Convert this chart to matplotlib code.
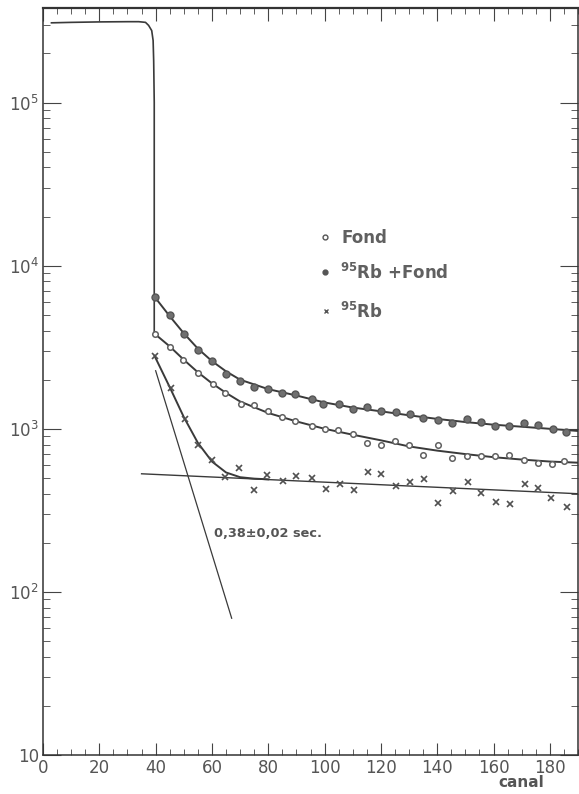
import numpy as np
import matplotlib.pyplot as plt
from matplotlib.ticker import MultipleLocator, FixedLocator, NullFormatter

# plateau + drop (counting curve at start)
plateau_x = [3, 10, 20, 30, 34, 36.4, 37.5, 38.6, 39.1, 39.3, 39.5, 39.5]
plateau_y = [3.08e5, 3.1e5, 3.12e5, 3.13e5, 3.13e5, 3.1e5, 2.97e5, 2.76e5, 2.4e5, 1.8e5, 1.0e5, 3830]

# Rb + Fond (filled circles)
rbf_x = [39.6, 45, 50, 55, 60, 65, 70, 75, 80, 85, 89.6, 95.4, 99.6, 105, 110, 115, 120, 125.4,
         130.4, 135, 140.4, 145.4, 150.4, 155.7, 160.4, 165.4, 170.7, 175.7, 181, 185.7]
rbf_y = [6450, 5000, 3820, 3050, 2610, 2170, 1970, 1810, 1760, 1660, 1640, 1530, 1420, 1420, 1330,
         1365, 1290, 1270, 1240, 1170, 1135, 1090, 1150, 1100, 1040, 1040, 1090, 1060, 1000, 960]

# Fond (open circles)
fond_x = [39.6, 45, 49.7, 55, 60.4, 64.6, 70.4, 75, 80, 85, 89.6, 95.4, 100, 104.6, 110, 115, 120,
          125, 130, 135, 140.4, 145.4, 150.4, 155.7, 160.4, 165.4, 170.7, 175.7, 180.7, 185]
fond_y = [3830, 3190, 2650, 2210, 1890, 1660, 1420, 1400, 1290, 1185, 1120, 1040, 1000, 985, 930,
          820, 800, 845, 800, 690, 800, 665, 680, 680, 680, 690, 645, 620, 610, 635]

# Rb (crosses)
rb_x = [39.6, 45.4, 50.4, 55, 60, 64.6, 69.6, 75, 79.6, 85.4, 90, 95.4, 100.4, 105.4, 110.4, 115.4,
        120, 125.4, 130.4, 135.4, 140.4, 145.7, 151, 155.7, 160.7, 165.7, 171, 175.7, 180.4, 186]
rb_y = [2800, 1780, 1150, 800, 640, 510, 575, 420, 520, 480, 515, 500, 430, 460, 420, 545,
        530, 447, 473, 493, 352, 417, 473, 405, 357, 346, 460, 435, 378, 332]

# fitted curves
fit_x = [39.6, 45, 50, 55, 60, 65, 70, 80, 90, 100, 110, 120, 130, 140, 150, 160, 170, 180, 190]
fit_rbf = [6450, 4900, 3850, 3100, 2600, 2250, 2000, 1750, 1600, 1450, 1350, 1280, 1210, 1150,
           1100, 1060, 1030, 1000, 970]
fit_fond = [3830, 3200, 2650, 2220, 1900, 1660, 1470, 1250, 1110, 1000, 920, 850, 780, 735,
            700, 670, 648, 630, 620]
fit_rb_x = [39.6, 45, 50, 55, 60, 65, 70, 75, 80]
fit_rb = [2800, 1800, 1180, 820, 630, 540, 505, 495, 490]
bg_x = [35, 190]
bg_y = [530, 400]
decay_x = [40, 67]
decay_y = [2270, 69]

fig = plt.figure(figsize=(5.79, 7.94), dpi=100)
ax = fig.add_axes([0.0743, 0.049, 0.924, 0.941])
ax.set_yscale('log')
ax.set_xlim(0, 190)
ax.set_ylim(10, 3.8e5)

lc = '#3a3a3a'
ax.plot(plateau_x, plateau_y, color=lc, lw=1.2)
ax.plot(fit_x, fit_rbf, color=lc, lw=1.4)
ax.plot(fit_x, fit_fond, color=lc, lw=1.4)
ax.plot(fit_rb_x, fit_rb, color=lc, lw=1.4)
ax.plot(bg_x, bg_y, color=lc, lw=1.0)
ax.plot(decay_x, decay_y, color=lc, lw=0.9)

ax.plot(rbf_x, rbf_y, 'o', ms=5, color='#707070', mec='#555555')
ax.plot(fond_x, fond_y, 'o', ms=4, mfc='white', mec='#606060', mew=1.1)
ax.plot(rb_x, rb_y, 'x', ms=4, color='#505050', mew=1.2)

ax.text(60.7, 227, '0,38±0,02 sec.', fontsize=9.3, fontweight='bold', color='#555555',
        va='center', ha='left')

# legend
tc = '#606060'
ax.plot([100.3], [1.5e4], 'o', ms=3.5, mfc='white', mec='#555555', mew=1)
ax.text(106, 1.48e4, 'Fond', fontsize=12, fontweight='bold', color=tc, va='center')
ax.plot([100.3], [9.1e3], 'o', ms=3.5, color='#555555')
ax.text(105.5, 9.0e3, r'$^{\bf 95}$Rb +Fond', fontsize=12, fontweight='bold', color=tc, va='center')
ax.plot([100.6], [5.3e3], 'x', ms=3.5, color='#555555', mew=1)
ax.text(105.5, 5.2e3, r'$^{\bf 95}$Rb', fontsize=12, fontweight='bold', color=tc, va='center')

# ticks
ax.xaxis.set_major_locator(MultipleLocator(20))
ax.xaxis.set_minor_locator(MultipleLocator(5))
ax.yaxis.set_major_locator(FixedLocator([10, 1e2, 1e3, 1e4, 1e5]))
ax.yaxis.set_minor_locator(FixedLocator([m * 10.0 ** e for e in range(1, 6) for m in range(2, 10)]))
ax.yaxis.set_minor_formatter(NullFormatter())
ax.set_yticklabels(['10', r'$\mathregular{10^2}$', r'$\mathregular{10^3}$',
                    r'$\mathregular{10^4}$', r'$\mathregular{10^5}$'])
ax.tick_params(which='both', direction='in', top=True, right=True, colors='#444444',
               labelcolor='#555555', labelsize=12, pad=3)
ax.tick_params(axis='x', which='major', length=9)
ax.tick_params(axis='x', which='minor', length=4)
ax.tick_params(axis='y', which='major', length=13)
ax.tick_params(axis='y', which='minor', length=5)
for s in ax.spines.values():
    s.set_color('#333333')
    s.set_linewidth(1.1)
ax.spines['top'].set_linewidth(1.6)

ax.text(170, -0.037, 'canal', transform=ax.get_xaxis_transform(), fontsize=11,
        fontweight='bold', color='#555555', ha='center', va='center')

plt.savefig('out.png', dpi=100)
